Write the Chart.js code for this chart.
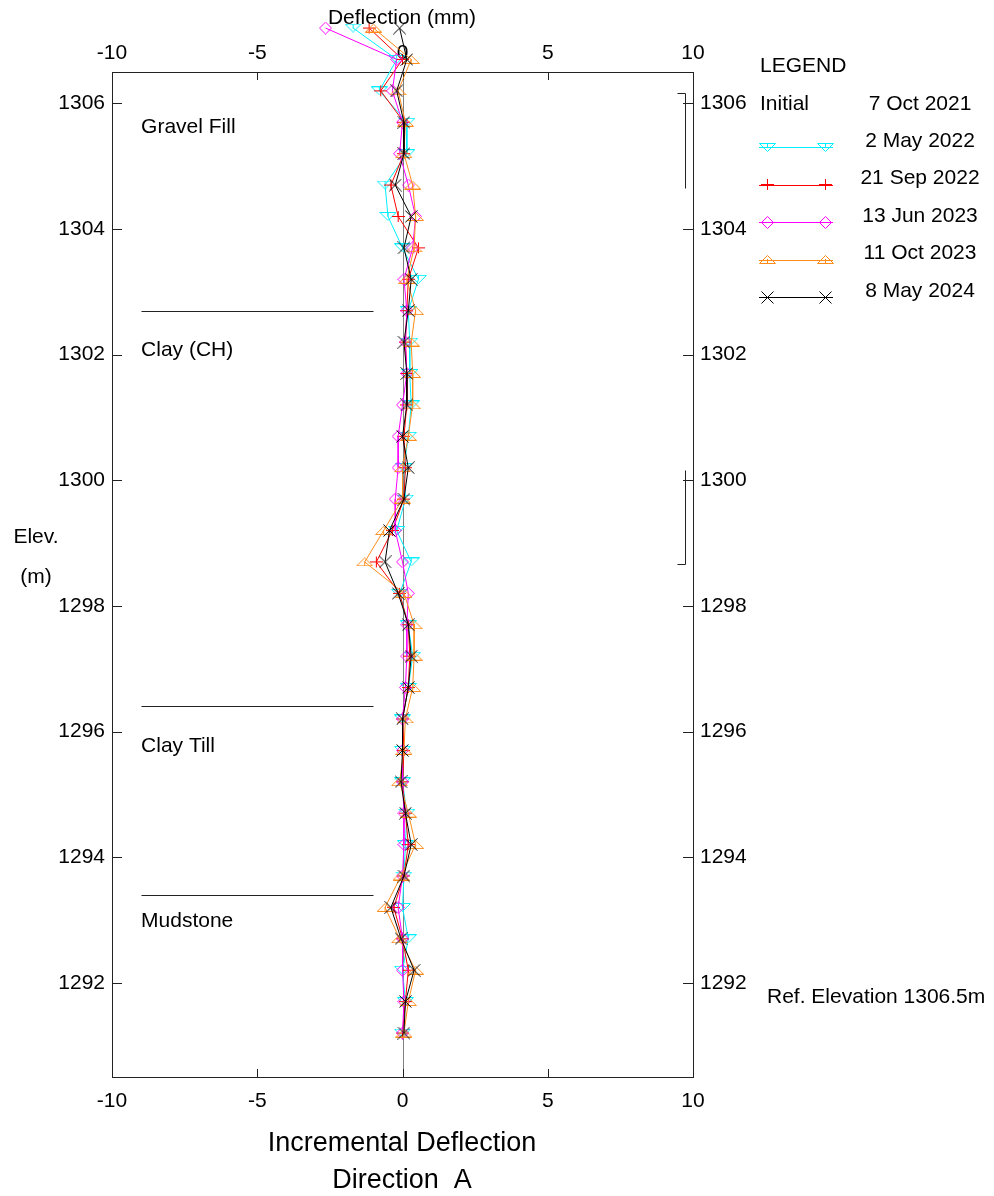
<!DOCTYPE html>
<html>
<head>
<meta charset="utf-8">
<title>Incremental Deflection - Direction A</title>
<script src="https://cdn.jsdelivr.net/npm/chart.js@4.4.0/dist/chart.umd.min.js"></script>
<style>
  html, body { margin: 0; padding: 0; background: #fff; }
  #chart { display: block; }
</style>
</head>
<body>
<canvas id="chart" width="994" height="1196"></canvas>
<script>
// elevation of each reading (m)
const elevations = [
  1307.2, 1306.7, 1306.2, 1305.7, 1305.2, 1304.7, 1304.2, 1303.7, 1303.2, 1302.7, 1302.2,
  1301.7, 1301.2, 1300.7, 1300.2, 1299.7, 1299.2, 1298.7, 1298.2, 1297.7, 1297.2, 1296.7,
  1296.2, 1295.7, 1295.2, 1294.7, 1294.2, 1293.7, 1293.2, 1292.7, 1292.2, 1291.7, 1291.2
];

// incremental deflection (mm) per survey
const may2022 = [
  -1.7, -0.2, -0.8, 0.15, 0.15, -0.6, -0.5, 0.0, 0.55, 0.2, 0.25,
  0.25, 0.3, 0.2, 0.05, 0.1, -0.2, 0.3, -0.1, 0.2, 0.35, 0.2,
  0.0, 0.0, 0.0, 0.15, 0.1, 0.05, 0.0, 0.2, 0.0, 0.1, 0.0
];
const sep2022 = [
  -1.15, 0.0, -0.75, 0.05, 0.05, -0.4, -0.15, 0.55, 0.2, 0.15, 0.1,
  0.15, 0.15, 0.05, 0.1, 0.05, -0.35, -0.9, -0.1, 0.2, 0.25, 0.2,
  0.0, 0.05, 0.0, 0.1, 0.2, 0.05, -0.3, 0.0, 0.2, 0.1, 0.0
];
const jun2023 = [
  -2.65, -0.2, -0.35, 0.0, -0.1, 0.2, 0.45, 0.35, 0.05, 0.15, 0.1,
  0.15, 0.0, -0.15, -0.15, -0.25, -0.25, 0.0, 0.2, 0.15, 0.15, 0.1,
  0.0, 0.0, 0.0, 0.05, 0.05, 0.0, -0.15, 0.0, 0.0, 0.05, 0.0
];
const oct2023 = [
  -1.0, 0.3, -0.15, 0.1, 0.05, 0.35, 0.45, 0.4, 0.15, 0.45, 0.3,
  0.35, 0.35, 0.2, 0.0, 0.0, -0.65, -1.3, 0.05, 0.4, 0.4, 0.35,
  0.1, 0.05, -0.1, 0.2, 0.45, -0.05, -0.6, -0.1, 0.45, 0.2, 0.05
];
const may2024 = [
  -0.1, 0.15, -0.2, 0.05, 0.05, -0.25, 0.3, 0.05, 0.3, 0.2, 0.05,
  0.15, 0.15, 0.0, 0.2, 0.05, -0.45, -0.6, -0.15, 0.2, 0.3, 0.2,
  0.0, 0.0, -0.05, 0.1, 0.3, 0.05, -0.4, -0.05, 0.4, 0.1, 0.05
];

const seriesLabels = ['2 May 2022', '21 Sep 2022', '13 Jun 2023', '11 Oct 2023', '8 May 2024'];
const seriesValues = [may2022, sep2022, jun2023, oct2023, may2024];
const seriesColors = ['#00f0ff', '#ff0000', '#ff00ff', '#ff8c1a', '#000000'];
const seriesMarkers = ['triDown', 'plus', 'diamond', 'triUp', 'x'];

const xTicks = [-10, -5, 0, 5, 10];
const elevTicks = [1292, 1294, 1296, 1298, 1300, 1302, 1304, 1306];

// soil layers: label elevation and boundaries
const layerNames = ['Gravel Fill', 'Clay (CH)', 'Clay Till', 'Mudstone'];
const layerLabelElev = [1305.62, 1302.07, 1295.77, 1292.98];
const layerBoundaryElev = [1302.7, 1296.4, 1293.4];
// bracketed zones on the right (top, bottom)
const zoneTops = [1306.17, 1300.17];
const zoneBottoms = [1304.66, 1298.67];

const FONT = '"Liberation Sans", Arial, sans-serif';
Chart.defaults.font.family = FONT;
Chart.defaults.font.size = 21;
Chart.defaults.color = '#000';

// small canvas markers, so triangles can be flat like the original plot
function makeMarker(kind, color) {
  const c = document.createElement('canvas');
  let w = 13, h = 13;
  if (kind === 'triDown' || kind === 'triUp') { w = 17; h = 9; }
  c.width = w;
  c.height = h;
  const g = c.getContext('2d');
  g.strokeStyle = color;
  g.lineWidth = 1;
  g.beginPath();
  if (kind === 'triDown') {
    g.moveTo(0.5, 0.5); g.lineTo(w - 0.5, 0.5); g.lineTo(w / 2, h - 0.5); g.closePath();
    g.moveTo(w / 2, 0.5); g.lineTo(w / 2, 5);
  } else if (kind === 'triUp') {
    g.moveTo(0.5, h - 0.5); g.lineTo(w - 0.5, h - 0.5); g.lineTo(w / 2, 0.5); g.closePath();
    g.moveTo(w / 2, h - 0.5); g.lineTo(w / 2, 4);
  } else if (kind === 'plus') {
    g.moveTo(0, 6.5); g.lineTo(w, 6.5);
    g.moveTo(6.5, 1); g.lineTo(6.5, h - 1);
  } else if (kind === 'diamond') {
    g.moveTo(6.5, 0.5); g.lineTo(w - 0.5, 6.5); g.lineTo(6.5, h - 0.5); g.lineTo(0.5, 6.5); g.closePath();
  } else {
    g.moveTo(0.5, 0.5); g.lineTo(w - 0.5, h - 0.5);
    g.moveTo(w - 0.5, 0.5); g.lineTo(0.5, h - 0.5);
  }
  g.stroke();
  return c;
}

const markerImages = seriesMarkers.map((m, i) => makeMarker(m, seriesColors[i]));

const datasets = seriesLabels.map((label, i) => ({
  label: label,
  data: elevations.map((e, j) => ({ x: seriesValues[i][j], y: e })),
  borderColor: seriesColors[i],
  backgroundColor: 'transparent',
  borderWidth: 1,
  pointStyle: markerImages[i],
  pointRadius: 7,
  showLine: true,
  tension: 0,
  clip: false,
  order: seriesLabels.length - 1 - i,
}));

const keepTicks = (values) => (scale) => {
  scale.ticks = values.map(v => ({ value: v }));
};

const axisBorder = { display: true, color: '#222', width: 1 };
const noGrid = { display: false, drawTicks: false };

// frame ticks, zero line, soil layers, zones, legend and captions
const overlay = {
  id: 'overlay',
  beforeDatasetsDraw(chart) {
    const { ctx, chartArea: a, scales } = chart;
    const x = scales.x, y = scales.y;
    const px = v => Math.round(x.getPixelForValue(v)) + 0.5;
    const py = v => Math.round(y.getPixelForValue(v)) + 0.5;
    ctx.save();
    ctx.lineWidth = 1;

    // zero reference line
    ctx.strokeStyle = '#808080';
    ctx.beginPath();
    ctx.moveTo(px(0), a.top);
    ctx.lineTo(px(0), a.bottom);
    ctx.stroke();

    // inner tick marks
    ctx.strokeStyle = '#222';
    ctx.beginPath();
    elevTicks.forEach(v => {
      ctx.moveTo(a.left, py(v)); ctx.lineTo(a.left + 10, py(v));
      ctx.moveTo(a.right, py(v)); ctx.lineTo(a.right - 10, py(v));
    });
    xTicks.slice(1, -1).forEach(v => {
      ctx.moveTo(px(v), a.bottom); ctx.lineTo(px(v), a.bottom - 8);
      ctx.moveTo(px(v), a.top); ctx.lineTo(px(v), a.top + 8);
    });
    ctx.stroke();

    // soil layer boundaries
    ctx.beginPath();
    layerBoundaryElev.forEach(e => {
      ctx.moveTo(px(-9), py(e)); ctx.lineTo(px(-1), py(e));
    });
    ctx.stroke();

    // zone brackets
    ctx.beginPath();
    const zx = px(9.73), zx0 = px(9.45);
    ctx.moveTo(zx0, py(zoneTops[0])); ctx.lineTo(zx, py(zoneTops[0])); ctx.lineTo(zx, py(zoneBottoms[0]));
    ctx.moveTo(zx, py(zoneTops[1])); ctx.lineTo(zx, py(zoneBottoms[1])); ctx.lineTo(zx0, py(zoneBottoms[1]));
    ctx.stroke();

    // layer names
    ctx.fillStyle = '#000';
    ctx.font = '21px ' + FONT;
    ctx.textAlign = 'left';
    ctx.textBaseline = 'middle';
    layerNames.forEach((n, i) => ctx.fillText(n, x.getPixelForValue(-9), y.getPixelForValue(layerLabelElev[i])));
    ctx.restore();

    // readings above the reference elevation sit over the frame: let their markers draw too
    chart._realTop = a.top;
    a.top = 0;
  },
  afterDatasetsDraw(chart) {
    if (chart._realTop !== undefined) {
      chart.chartArea.top = chart._realTop;
    }
  },
  afterDraw(chart) {
    const { ctx } = chart;
    ctx.save();
    ctx.fillStyle = '#000';
    ctx.textBaseline = 'middle';
    ctx.font = '21px ' + FONT;

    ctx.textAlign = 'center';
    ctx.fillText('Deflection (mm)', 402, 18);
    ctx.fillText('Elev.', 36, 537);
    ctx.fillText('(m)', 36, 577);

    ctx.font = '27px ' + FONT;
    ctx.fillText('Incremental Deflection', 402, 1144);
    ctx.fillText('Direction  A', 402, 1181);

    // legend
    ctx.font = '21px ' + FONT;
    ctx.textAlign = 'left';
    ctx.fillText('LEGEND', 760, 66);
    ctx.fillText('Initial', 760, 104);
    ctx.fillText('Ref. Elevation 1306.5m', 767, 997);
    ctx.textAlign = 'center';
    ctx.fillText('7 Oct 2021', 920, 104);
    seriesLabels.forEach((label, i) => {
      const ly = 147 + i * 37.5;
      ctx.strokeStyle = seriesColors[i];
      ctx.lineWidth = 1;
      ctx.beginPath();
      ctx.moveTo(759, Math.round(ly) + 0.5);
      ctx.lineTo(833, Math.round(ly) + 0.5);
      ctx.stroke();
      const img = markerImages[i];
      [767, 825].forEach(mx => {
        ctx.drawImage(img, Math.round(mx - img.width / 2), Math.round(ly - img.height / 2));
      });
      ctx.fillText(label, 920, ly - 6);
    });
    ctx.restore();
  }
};

new Chart(document.getElementById('chart'), {
  type: 'scatter',
  data: { datasets },
  options: {
    responsive: false,
    animation: false,
    events: [],
    layout: { padding: 0 },
    plugins: {
      legend: { display: false },
      tooltip: { enabled: false },
    },
    scales: {
      x: {
        type: 'linear', position: 'bottom', min: -10, max: 10,
        afterBuildTicks: keepTicks(xTicks),
        afterFit: s => { s.height = 119; },
        ticks: { padding: 12, maxRotation: 0, autoSkip: false, callback: v => String(v) },
        grid: noGrid, border: axisBorder,
      },
      x2: {
        type: 'linear', position: 'top', min: -10, max: 10,
        afterBuildTicks: keepTicks(xTicks),
        afterFit: s => { s.height = 72; },
        ticks: { padding: 6, maxRotation: 0, autoSkip: false, callback: v => String(v) },
        grid: noGrid, border: axisBorder,
      },
      y: {
        type: 'linear', position: 'left', min: 1290.5, max: 1306.5,
        afterBuildTicks: keepTicks(elevTicks),
        afterFit: s => { s.width = 112; },
        ticks: { padding: 7, autoSkip: false, callback: v => String(v) },
        grid: noGrid, border: axisBorder,
      },
      y2: {
        type: 'linear', position: 'right', min: 1290.5, max: 1306.5,
        afterBuildTicks: keepTicks(elevTicks),
        afterFit: s => { s.width = 301; },
        ticks: { padding: 7, autoSkip: false, callback: v => String(v) },
        grid: noGrid, border: axisBorder,
      },
    },
  },
  plugins: [overlay],
});
</script>
</body>
</html>
